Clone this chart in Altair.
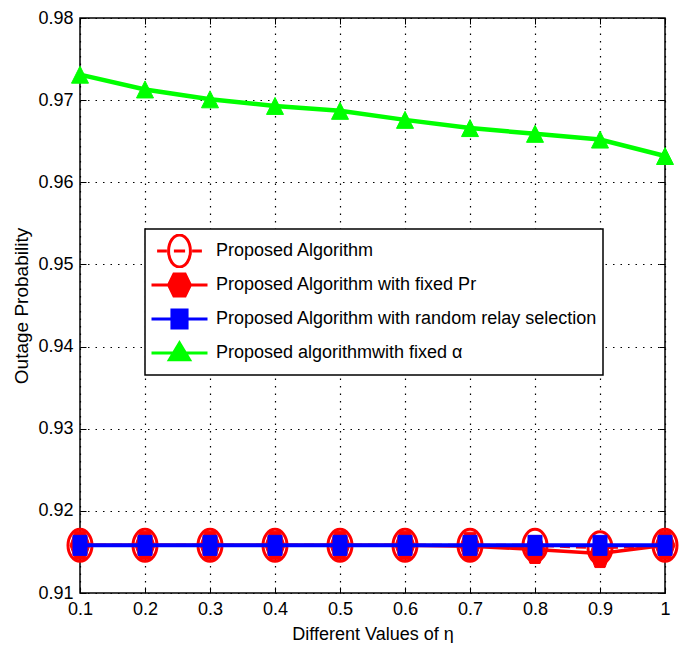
import altair as alt
import pandas as pd

# ---------------- data ----------------
eta = [0.1, 0.2, 0.3, 0.4, 0.5, 0.6, 0.7, 0.8, 0.9, 1.0]
proposed = [0.9158, 0.9158, 0.9158, 0.9158, 0.9158, 0.9158, 0.9158, 0.9158, 0.9155, 0.9158]
fixed_pr = [0.9158, 0.9158, 0.9158, 0.9158, 0.9158, 0.9158, 0.9157, 0.9153, 0.9148, 0.9158]
random_relay = [0.9158, 0.9158, 0.9158, 0.9158, 0.9158, 0.9158, 0.9158, 0.9158, 0.9158, 0.9158]
fixed_alpha = [0.9731, 0.9713, 0.9701, 0.9693, 0.9687, 0.9676, 0.9666, 0.9659, 0.9652, 0.9632]

series_names = [
    "Proposed Algorithm",
    "Proposed Algorithm with fixed Pr",
    "Proposed Algorithm with random relay selection",
    "Proposed algorithmwith fixed α",
]
y_ticks = [0.91, 0.92, 0.93, 0.94, 0.95, 0.96, 0.97, 0.98]

RED, BLUE, GREEN = "#FF0000", "#0000FF", "#00FF00"
series_colors = [RED, RED, BLUE, GREEN]
series_fills = ["transparent", RED, BLUE, GREEN]

NARROW = "Liberation Sans Narrow, Arial Narrow, Liberation Sans, sans-serif"
REGULAR = "Liberation Sans, Arial, sans-serif"

rows = []
for name, vals in zip(series_names, [proposed, fixed_pr, random_relay, fixed_alpha]):
    for e, v in zip(eta, vals):
        rows.append({"eta": e, "value": v, "series": name})
df = pd.DataFrame(rows)

# marker shapes (unit paths, vertically stretched like the reference)
ELLIPSE = "M-0.75,0A0.75,1,0,1,0,0.75,0A0.75,1,0,1,0,-0.75,0Z"
HEXAGON = "M-0.71,0L-0.36,-1L0.36,-1L0.71,0L0.36,1L-0.36,1Z"
SQUARE = "M-0.7,-1L0.7,-1L0.7,1L-0.7,1Z"
TRIANGLE = "M0,-1L1,1L-1,1Z"

# legend symbols: line segment + marker
LEG_PATHS = [
    "M-0.8,0L-0.45,0M-0.2,0L0.2,0M0.45,0L0.8,0M-0.39,0A0.39,0.57,0,1,0,0.39,0A0.39,0.57,0,1,0,-0.39,0Z",
    "M-1,0L1,0M-0.39,0L-0.2,-0.39L0.2,-0.39L0.39,0L0.2,0.39L-0.2,0.39Z",
    "M-1,0L1,0M-0.27,-0.32L0.27,-0.32L0.27,0.32L-0.27,0.32Z",
    "M-1,0L1,0M0,-0.36L0.36,0.24L-0.36,0.24Z",
]

xscale = alt.Scale(domain=[0.1, 1.0], nice=False, zero=False)
yscale = alt.Scale(domain=[0.91, 0.98], nice=False, zero=False)

main_x = alt.Axis(
    orient="bottom", values=eta, format="~g", labelFont=NARROW, labelFontSize=18,
    labelColor="black", labelPadding=7, ticks=False, tickSize=0, domain=False,
    grid=True, gridColor="black", gridDash=[1.5, 6], gridWidth=1.2, gridOpacity=1,
    title="Different Values of η", titleFont=NARROW, titleFontSize=18,
    titleFontWeight="normal", titleColor="black", titlePadding=7, labelFlush=False,
)
main_y = alt.Axis(
    orient="left", values=y_ticks, format=".2f", labelFont=NARROW, labelFontSize=18,
    labelColor="black", labelPadding=7, ticks=False, tickSize=0, domain=False,
    grid=True, gridColor="black", gridDash=[1.5, 6], gridWidth=1.2, gridOpacity=1,
    title="Outage Probability", titleFont=REGULAR, titleFontSize=19,
    titleFontWeight="normal", titleColor="black", titlePadding=6,
)


def tick_axis(orient, values):
    return alt.Axis(
        orient=orient, offset=-6, values=values, labels=False, domain=False,
        grid=False, ticks=True, tickSize=6, tickColor="black", tickWidth=1, title=None,
    )


def enc(xaxis=None, yaxis=None):
    return dict(
        x=alt.X("eta:Q", scale=xscale, axis=xaxis),
        y=alt.Y("value:Q", scale=yscale, axis=yaxis),
    )


base = alt.Chart(df)


def sel(i):
    return base.transform_filter(alt.datum.series == series_names[i])


layers = [
    # series 1: dashed red line with open circles
    sel(0).mark_line(color=RED, strokeWidth=3, strokeDash=[10, 6]).encode(**enc(main_x, main_y)),
    sel(0).mark_point(shape=ELLIPSE, size=1024, filled=False, stroke=RED, strokeWidth=3, opacity=1)
    .encode(**enc(tick_axis("top", eta), tick_axis("right", y_ticks))),
    # series 2: solid red line with filled hexagons
    sel(1).mark_line(color=RED, strokeWidth=3.5).encode(**enc(tick_axis("bottom", eta), tick_axis("left", y_ticks))),
    sel(1).mark_point(shape=HEXAGON, size=784, filled=True, fill=RED, stroke=RED, strokeWidth=1, opacity=1).encode(**enc()),
    # series 3: blue line with squares
    sel(2).mark_line(color=BLUE, strokeWidth=4).encode(**enc()),
    sel(2).mark_point(shape=SQUARE, size=400, filled=True, fill=BLUE, stroke=BLUE, strokeWidth=1, opacity=1).encode(**enc()),
    # series 4: green line with triangles
    sel(3).mark_line(color=GREEN, strokeWidth=4.5).encode(**enc()),
    sel(3).mark_point(shape=TRIANGLE, size=289, filled=True, fill=GREEN, stroke=GREEN, strokeWidth=1, opacity=1).encode(**enc()),
]

leg = alt.Legend(
    title=None, orient="none", legendX=65, legendY=211, direction="vertical",
    fillColor="white", strokeColor="black", padding=5,
    labelFont=NARROW, labelFontSize=18, labelColor="black", labelLimit=0, labelOffset=7,
    symbolSize=3136, symbolStrokeWidth=3, clipHeight=34, rowPadding=0,
)

legend_layer = (
    base.transform_filter("false")
    .mark_point(size=3136, strokeWidth=3, opacity=1, filled=True)
    .encode(
        **enc(),
        shape=alt.Shape("series:N", scale=alt.Scale(domain=series_names, range=LEG_PATHS), legend=leg),
        fill=alt.Fill("series:N", scale=alt.Scale(domain=series_names, range=series_fills), legend=leg),
        stroke=alt.Stroke("series:N", scale=alt.Scale(domain=series_names, range=series_colors), legend=leg),
    )
)

chart = (
    alt.layer(*layers, legend_layer)
    .resolve_axis(x="independent", y="independent")
    .properties(
        width=585, height=575,
        autosize=alt.AutoSizeParams(type="none"),
        padding={"left": 72, "top": 10, "right": 18, "bottom": 50},
        background="white",
    )
    .configure_view(stroke="black", strokeWidth=1.5)
    .configure_legend(strokeWidth=1.5)
)

chart.save("out.html", embed_options={"renderer": "svg", "actions": False})
